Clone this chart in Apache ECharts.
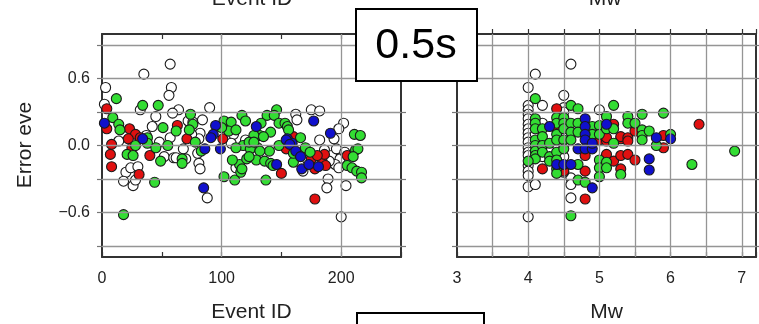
<!DOCTYPE html>
<html><head><meta charset="utf-8">
<script src="https://cdn.jsdelivr.net/npm/echarts@6/dist/echarts.min.js"></script>
<style>html,body{margin:0;padding:0;background:#fff}#c{width:759px;height:324px}</style>
</head><body><div id="c"></div>
<script>
// ---- data: left panel [event id, error] ----
const leftWhite = [[3,0.52],[35,0.64],[57,0.73],[58,0.52],[56,0.45],[2,0.37],[32,0.32],[64,0.32],[59,0.29],[90,0.34],[45,0.26],[162,0.28],[163,0.23],[175,0.32],[182,0.31],[202,0.2],[198,0.15],[42,0.17],[72,0.22],[76,0.21],[84,0.23],[82,0.11],[81,0.06],[57,0.07],[20,-0.24],[18,-0.32],[26,-0.36],[28,-0.31],[24,-0.2],[30,-0.19],[52,-0.1],[60,-0.11],[62,-0.11],[70,-0.12],[68,-0.03],[80,-0.07],[81,-0.16],[82,-0.21],[88,-0.47],[200,-0.64],[189,-0.3],[188,-0.38],[204,-0.36],[194,0.06],[182,0.05],[186,-0.04],[192,-0.09],[196,-0.03],[199,-0.12],[203,-0.06],[195,-0.17],[190,-0.14],[198,-0.2],[48,0.03],[37,0.09],[110,0.1],[108,0.02],[112,-0.2],[120,0.05],[168,-0.23],[172,-0.13],[14,0.04],[75,0.1]];
const leftRed = [[4,0.33],[4,0.15],[23,0.15],[28,0.1],[22,0.06],[32,0.07],[63,0.18],[71,0.06],[101,0.06],[160,0.08],[8,0.01],[25,-0.02],[7,-0.08],[8,-0.19],[40,-0.09],[31,-0.26],[150,-0.25],[154,-0.03],[175,-0.12],[178,-0.21],[184,-0.14],[187,-0.18],[186,-0.08],[180,-0.09],[205,-0.09],[178,-0.48]];
const leftGreen = [[12,0.42],[34,0.36],[47,0.36],[9,0.25],[14,0.19],[15,0.14],[74,0.28],[76,0.19],[73,0.14],[51,0.16],[62,0.13],[102,0.22],[108,0.21],[117,0.27],[120,0.22],[106,0.13],[112,0.14],[100,0.16],[138,0.27],[146,0.32],[144,0.27],[133,0.2],[141,0.12],[132,0.09],[127,0.09],[148,0.2],[153,0.2],[155,0.17],[156,0.14],[166,0.07],[211,0.1],[216,0.09],[38,0.07],[28,0.0],[38,0.02],[45,-0.02],[55,0.0],[78,0.03],[83,-0.05],[118,0.0],[130,-0.02],[140,-0.05],[148,0.0],[170,-0.02],[18,-0.62],[44,-0.33],[21,-0.08],[26,-0.09],[49,-0.14],[67,-0.12],[67,-0.16],[102,-0.28],[111,-0.31],[116,-0.24],[115,-0.17],[117,-0.21],[109,-0.13],[112,-0.02],[121,-0.12],[124,-0.03],[123,0.03],[137,-0.31],[160,-0.15],[127,0.03],[132,-0.05],[129,-0.13],[136,-0.14],[141,-0.16],[143,-0.18],[160,-0.07],[123,-0.1],[135,0.08],[174,-0.06],[205,-0.18],[209,-0.2],[213,-0.23],[217,-0.24],[217,-0.29],[212,-0.04],[214,-0.03],[210,-0.1]];
const leftBlue = [[2,0.2],[34,0.06],[95,0.18],[93,0.1],[91,0.07],[86,-0.03],[99,-0.03],[129,0.17],[177,0.22],[191,0.11],[155,0.06],[159,0.02],[154,0.05],[157,0.01],[162,-0.05],[166,-0.1],[167,-0.21],[173,-0.17],[181,-0.19],[146,-0.17],[85,-0.38]];
// ---- data: right panel [Mw, error] ----
const rightWhite = [[4.0,0.52],[4.0,0.36],[4.0,0.32],[4.0,0.28],[4.0,0.24],[4.0,0.19],[4.0,0.15],[4.0,0.11],[4.0,0.07],[4.0,0.03],[4.0,-0.02],[4.0,-0.06],[4.0,-0.09],[4.0,-0.18],[4.0,-0.23],[4.0,-0.27],[4.0,-0.37],[4.0,-0.64],[4.1,0.64],[4.6,0.73],[4.5,0.45],[4.2,0.36],[4.5,0.34],[4.5,0.3],[5.0,0.32],[4.1,-0.35],[4.6,-0.29],[4.6,-0.35],[4.6,-0.47],[4.5,-0.24],[4.2,0.05],[4.2,0.2],[4.3,0.1],[4.4,0.0],[4.5,0.0],[4.5,-0.1],[4.3,-0.05],[4.2,-0.1],[4.5,0.1],[4.1,0.1]];
const rightRed = [[4.4,0.33],[4.4,0.15],[4.2,-0.21],[4.5,-0.23],[4.8,-0.23],[4.8,-0.48],[4.8,-0.09],[5.0,0.05],[5.1,0.04],[5.1,0.07],[5.1,-0.08],[5.2,0.19],[5.2,-0.14],[5.3,0.06],[5.3,0.08],[5.3,-0.09],[5.3,-0.21],[5.4,0.07],[5.4,0.04],[5.4,-0.08],[5.5,0.13],[5.5,-0.13],[5.9,0.09],[5.9,-0.02],[6.4,0.19]];
const rightGreen = [[4.1,0.42],[4.1,0.24],[4.1,0.2],[4.1,0.15],[4.1,0.05],[4.1,0.0],[4.1,-0.05],[4.1,-0.09],[4.1,-0.12],[4.0,-0.14],[4.2,0.15],[4.2,0.08],[4.2,0.0],[4.2,-0.06],[4.3,0.02],[4.3,-0.1],[4.3,-0.14],[4.4,0.25],[4.4,0.2],[4.4,0.1],[4.4,0.05],[4.4,-0.06],[4.4,-0.13],[4.4,-0.21],[4.4,-0.25],[4.5,0.25],[4.5,0.2],[4.5,0.15],[4.5,0.05],[4.5,-0.03],[4.6,0.36],[4.6,0.2],[4.6,0.12],[4.6,0.05],[4.6,-0.63],[4.7,0.33],[4.7,0.2],[4.7,0.12],[4.7,-0.17],[4.7,-0.31],[4.8,-0.33],[4.9,0.17],[4.9,0.1],[5.0,0.18],[5.0,0.1],[5.0,-0.13],[5.0,-0.2],[5.0,-0.28],[5.1,0.26],[5.1,0.15],[5.1,-0.15],[5.1,-0.2],[5.2,0.36],[5.2,0.15],[5.2,0.02],[5.3,-0.26],[5.4,0.26],[5.4,0.2],[5.5,0.2],[5.6,0.28],[5.6,0.14],[5.6,0.09],[5.6,0.05],[5.7,0.13],[5.8,0.0],[5.9,0.29],[6.0,0.1],[6.3,-0.17],[6.9,-0.05]];
const rightBlue = [[4.3,0.17],[4.8,0.24],[4.8,0.17],[4.8,0.1],[4.8,0.05],[4.7,-0.03],[4.8,-0.03],[4.9,-0.03],[4.9,0.02],[4.4,-0.17],[4.5,-0.17],[4.6,-0.17],[4.9,-0.38],[5.1,0.19],[5.8,0.07],[6.0,0.06],[5.7,-0.12],[5.7,-0.22]];
// ---- axis ticks / labels ----
const yGrid = [-0.9,-0.6,-0.3,0,0.3,0.6,0.9];
const yLabels = [-0.6,0,0.6];
const leftXGrid = [100,200];
const rightXGrid = [3.5,4,4.5,5,5.5,6,6.5,7];

const FONT = 'Liberation Sans, Arial, sans-serif';
const frame = {show:true, onZero:false, lineStyle:{color:'#333', width:2}};
const colors = {white:'#ffffff', red:'#e01010', green:'#33dd33', blue:'#1010cc'};

function xAx(grid, pos, min, max, interval, labels, name, tickInside){
  return {type:'value', gridIndex:grid, position:pos, min:min, max:max, interval:interval,
    axisLine:frame, splitLine:{show:false},
    axisTick:{show:true, inside:tickInside, length:5, lineStyle:{color:'#333', width:1.2}},
    axisLabel:{show:labels, margin:14, fontSize:16, color:'#222', fontFamily:FONT,
      formatter:function(v){ return (Math.abs(v-Math.round(v/ (interval*2))* interval*2) < 1e-6) ? String(Math.round(v*10)/10) : ''; }},
    name:name, nameLocation:'middle', nameGap:45,
    nameTextStyle:{fontSize:21, color:'#222', fontFamily:FONT}};
}
function yAx(grid, pos, labels){
  return {type:'value', gridIndex:grid, position:pos, min:-1, max:1,
    axisLine:frame, splitLine:{show:false},
    axisTick:{show:true, inside:false, length:5, customValues:yGrid, lineStyle:{color:'#777', width:1.2}},
    axisLabel:{show:labels, customValues:yLabels, margin:12, fontSize:16, color:'#222', fontFamily:FONT, padding:[3,0,0,0],
      formatter:function(v){ return v < 0 ? '\u2212' + (-v).toFixed(1) : v.toFixed(1); }}};
}
function gridSeries(xi, yi, xs){
  const d = yGrid.map(v=>({yAxis:v})).concat(xs.map(v=>({xAxis:v})));
  return {type:'line', xAxisIndex:xi, yAxisIndex:yi, data:[], z:1, silent:true,
    markLine:{silent:true, symbol:'none', animation:false, label:{show:false},
      lineStyle:{color:'#959595', width:1.3, type:'solid'}, data:d}};
}
function sc(data, color, xi, yi){
  return {type:'scatter', xAxisIndex:xi, yAxisIndex:yi, data:data, symbolSize:10, z:3,
    itemStyle:{color:color, borderColor:'#1a1a1a', borderWidth:1.1, opacity:1}};
}

const chart = echarts.init(document.getElementById('c'), null, {renderer:'canvas'});
chart.setOption({
  animation:false,
  backgroundColor:'#fff',
  grid:[{left:102, top:34, width:299, height:223, containLabel:false, outerBoundsMode:'none'},
        {left:457, top:34, width:299, height:223, containLabel:false, outerBoundsMode:'none'}],
  xAxis:[
    xAx(0,'bottom',0,250,50,true,'Event ID',true),
    xAx(0,'top',0,250,50,false,'',true),
    xAx(1,'bottom',3,7.2,0.5,true,'Mw',true),
    xAx(1,'top',3,7.2,0.5,false,'',false)
  ],
  yAxis:[yAx(0,'left',true), yAx(0,'right',false), yAx(1,'left',false), yAx(1,'right',false)],
  series:[
    gridSeries(0,0,leftXGrid),
    gridSeries(2,2,rightXGrid),
    sc(leftWhite, colors.white, 0, 0),
    sc(leftRed, colors.red, 0, 0),
    sc(leftGreen, colors.green, 0, 0),
    sc(leftBlue, colors.blue, 0, 0),
    sc(rightWhite, colors.white, 2, 2),
    sc(rightRed, colors.red, 2, 2),
    sc(rightGreen, colors.green, 2, 2),
    sc(rightBlue, colors.blue, 2, 2)
  ],
  graphic:[
    {type:'text', style:{text:'Event ID', x:252, y:10, align:'center', verticalAlign:'bottom', fontSize:21, fill:'#222', fontFamily:FONT}, z:10},
    {type:'text', style:{text:'Mw', x:605, y:10, align:'center', verticalAlign:'bottom', fontSize:21, fill:'#222', fontFamily:FONT}, z:10},
    {type:'text', rotation:Math.PI/2, x:25, y:145, style:{text:'Error eve', x:0, y:0, align:'center', verticalAlign:'middle', fontSize:21, fill:'#222', fontFamily:FONT}, z:10},
    {type:'rect', shape:{x:356, y:9, width:121, height:72}, style:{fill:'#fff', stroke:'#000', lineWidth:2}, z:20},
    {type:'text', style:{text:'0.5s', x:416, y:46, align:'center', verticalAlign:'middle', fontSize:43, fill:'#000', fontFamily:FONT}, z:21},
    {type:'rect', shape:{x:357, y:313, width:127, height:30}, style:{fill:'#fff', stroke:'#000', lineWidth:2}, z:20}
  ]
});
</script></body></html>
